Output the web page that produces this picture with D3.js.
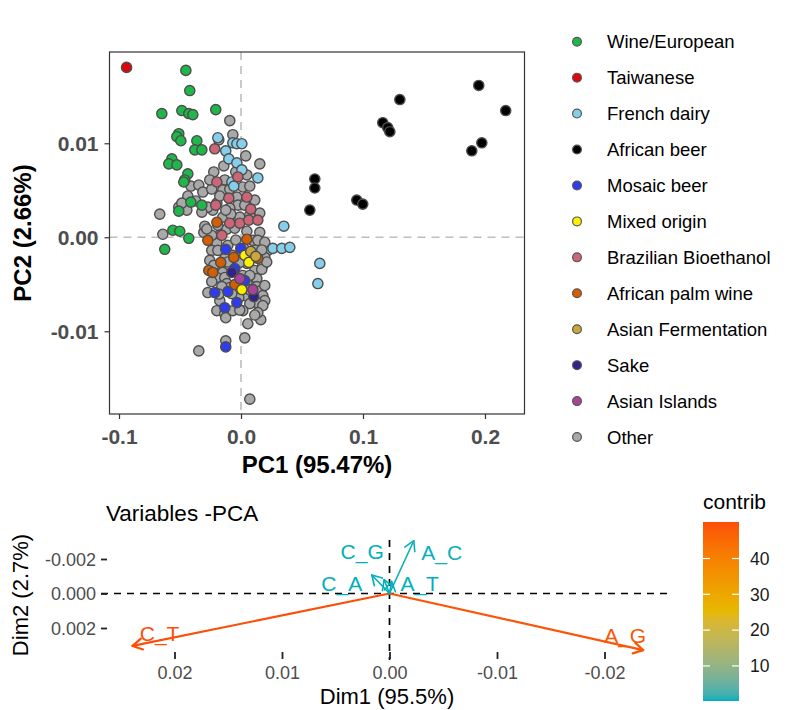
<!DOCTYPE html>
<html><head><meta charset="utf-8">
<script src="https://cdn.jsdelivr.net/npm/d3@7"></script>
<style>body{margin:0;background:#fff} svg{display:block} text{font-family:"Liberation Sans",Arial,Helvetica,sans-serif}</style>
</head><body><svg id="c" width="794" height="710"></svg>
<script>
// ---------------- DATA: individuals (PC1, PC2) ----------------
const categories = ["Wine/European","Taiwanese","French dairy","African beer","Mosaic beer","Mixed origin","Brazilian Bioethanol","African palm wine","Asian Fermentation","Sake","Asian Islands","Other"];
const categoryColors = ["#1EB84A","#E0060E","#87CEEB","#000000","#2F3BEF","#FFF000","#CC6677","#D55E00","#C8A838","#332288","#AA4499","#A9A9A9"];

const wineEuropean = [[-0.0452,0.01775],[-0.0420,0.01561],[-0.0649,0.01316],[-0.0485,0.01348],[-0.0428,0.01316],[-0.0395,0.01305],[-0.0207,0.01358],[-0.0510,0.01102],[-0.0526,0.0107],[-0.0493,0.01027],[-0.0362,0.01027],[-0.0379,0.0093],[-0.0321,0.0093],[-0.0567,0.00834],[-0.0592,0.00781],[-0.0526,0.0077],[-0.0436,0.00674],[-0.0461,0.0061],[-0.0469,0.00588],[-0.0321,0.00342],[-0.0510,0.00278],[-0.0411,0.00374],[-0.0559,0.00075],[-0.0502,0.00064],[-0.0428,-0.00011],[-0.0625,-0.00128]];
const taiwanese = [[-0.0938,0.01807]];
const frenchDairy = [[-0.0190,0.01059],[-0.0067,0.01005],[-0.0034,0.00995],[0.0007,0.00995],[-0.0125,0.0092],[-0.0100,0.00834],[-0.0034,0.00791],[0.0007,0.00717],[0.0138,0.00631],[-0.0075,0.00588],[-0.0059,0.00545],[0.0351,0.00118],[0.0261,-0.00118],[0.0334,-0.00118],[0.0400,-0.00107],[0.0646,-0.00278],[0.0630,-0.00492]];
const africanBeer = [[0.1949,0.01615],[0.1302,0.01465],[0.2170,0.01348],[0.1162,0.01219],[0.1203,0.01166],[0.1220,0.01123],[0.1974,0.01005],[0.1892,0.0092],[0.0605,0.0062],[0.0605,0.00524],[0.0949,0.00396],[0.0998,0.00353],[0.0564,0.00289]];
const mosaicBeer = [[-0.0125,-0.00128],[-0.0002,-0.00118],[-0.0051,-0.00332],[-0.0215,-0.00588],[-0.0108,-0.00578],[-0.0034,-0.00695],[-0.0133,-0.00749],[-0.0125,-0.01166],[0.0031,-0.0046]];
const mixedOrigin = [[0.0031,-0.00193],[0.0007,-0.00556],[0.0064,-0.00267]];
const brazilianBioethanol = [[-0.0215,0.00941],[-0.0198,0.00588],[-0.0026,0.00642],[-0.0100,0.00417],[0.0048,0.00428],[-0.0207,0.00342],[0.0080,0.00299],[-0.0010,0.0015],[0.0064,0.00182],[-0.0092,0.0015],[-0.0157,0.00021],[0.0138,0.00182]];
const africanPalmWine = [[-0.0198,0.0016],[-0.0272,-0.00032],[0.0048,-0.00021],[-0.0059,-0.00214],[-0.0166,-0.00267],[-0.0264,-0.00353],[-0.0051,-0.00503],[0.0138,-0.00225],[-0.0231,-0.00374]];
const asianFermentation = [[0.0080,-0.0015],[0.0121,-0.00203]];
const sake = [[-0.0075,-0.00374],[0.0105,-0.00631]];
const asianIslands = [[-0.0010,-0.00439],[0.0097,-0.00556]];
const other = [[-0.0092,0.01241],[-0.0067,0.01091],[-0.0182,0.01037],[0.0154,0.00781],[0.0039,0.00866],[-0.0141,0.00759],[-0.0223,0.00695],[0.0048,0.00663],[-0.0411,0.00545],[-0.0346,0.00556],[-0.0313,0.00481],[-0.0436,0.00439],[-0.0240,0.00513],[-0.0149,0.00503],[-0.0092,0.00513],[0.0015,0.00535],[-0.0034,0.00428],[-0.0510,0.00321],[-0.0666,0.00246],[-0.0198,0.00364],[-0.0026,0.00342],[-0.0092,0.0031],[0.0031,0.00342],[0.0154,0.00257],[-0.0231,0.00289],[-0.0272,0.00321],[-0.0444,0.00289],[-0.0485,0.00364],[-0.0149,0.00214],[-0.0067,0.00214],[-0.0010,0.00214],[-0.0084,0.00246],[-0.0321,0.00267],[-0.0125,0.00289],[-0.0641,0.00032],[-0.0305,0.00053],[-0.0157,0.00064],[-0.0116,0.00086],[-0.0051,0.00096],[0.0048,0.00064],[0.0154,0.00053],[-0.0198,-0.00064],[-0.0240,-0.00139],[-0.0190,-0.00139],[0.0220,-0.00139],[0.0195,-0.00214],[0.0130,-0.00107],[-0.0067,-0.00193],[-0.0133,-0.00225],[0.0048,-0.00278],[0.0179,-0.00299],[0.0113,-0.00353],[0.0170,-0.00342],[0.0015,-0.00406],[0.0130,-0.00439],[-0.0149,-0.00374],[-0.0198,-0.00428],[-0.0240,-0.00471],[-0.0133,-0.00428],[-0.0116,-0.00492],[0.0048,-0.00481],[0.0130,-0.00524],[0.0162,-0.00567],[-0.0092,-0.00535],[-0.0157,-0.00524],[0.0179,-0.0062],[0.0097,-0.00642],[0.0031,-0.0062],[-0.0018,-0.00642],[0.0195,-0.00674],[0.0130,-0.00695],[0.0072,-0.00706],[0.0179,-0.00727],[-0.0075,-0.00599],[-0.0198,-0.00781],[-0.0133,-0.00813],[-0.0125,-0.00856],[0.0056,-0.0092],[0.0162,-0.00877],[0.0031,-0.0107],[-0.0125,-0.01102],[-0.0346,-0.01209],[0.0072,-0.01722],[0.0089,-0.00193],[-0.0010,-0.00267],[-0.0092,-0.00299],[-0.0256,-0.00246],[0.0097,-0.00032],[0.0023,-0.00118],[0.0138,-0.00032],[-0.0108,-0.00086],[-0.0297,0.00118],[0.0072,0.00235],[0.0113,0.00396],[-0.0174,0.00439],[-0.0043,0.00695],[0.0072,0.00545],[-0.0133,0.0061],[-0.0256,0.0061],[-0.0223,-0.00299],[0.0072,-0.00406],[-0.0174,-0.00674],[-0.0067,-0.00781],[0.0015,-0.00781],[0.0138,-0.00802],[0.0195,-0.00513],[-0.0190,0.00128],[-0.0240,0.00021],[0.0195,-0.00053],[-0.0272,-0.00588],[-0.0280,0.00088],[0.0170,-0.00135],[0.0211,-0.00263],[0.0072,-0.0056],[-0.0043,-0.00029],[-0.0108,-0.00263],[-0.0010,-0.00774],[0.0113,-0.00827],[-0.0182,-0.00604],[-0.0370,0.00386]];

const seriesByCategory = [wineEuropean,taiwanese,frenchDairy,africanBeer,mosaicBeer,mixedOrigin,brazilianBioethanol,africanPalmWine,asianFermentation,sake,asianIslands,other];
const drawOrder = [11,0,1,2,3,6,7,4,5,8,9,10];

const pcXTicks = [-0.1,0,0.1,0.2];
const pcXTickLabels = ["-0.1","0.0","0.1","0.2"];
const pcYTicks = [-0.01,0,0.01];
const pcYTickLabels = ["-0.01","0.00","0.01"];
const pcXTitle = "PC1 (95.47%)";
const pcYTitle = "PC2 (2.66%)";

// ---------------- DATA: variables ----------------
const varNames = ["C_T","A_G","A_C","C_A","C_G","A_T"];
const varDim1 = [0.0239,-0.0236,-0.00226,0.00165,0.0005,-0.0002];
const varDim2 = [0.00304,0.00328,-0.00306,-0.00107,-0.0008,-0.0007];
const varContrib = [50.2,49.1,0.3,0.2,0.2,0.2];
const labelNudge = [[27,-13],[-18,-15],[28,12],[-30,8],[-22,-28],[28,2]]; // repel offsets (px)
const dimXTicks = [0.02,0.01,0,-0.01,-0.02];
const dimXTickLabels = ["0.02","0.01","0.00","-0.01","-0.02"];
const dimYTicks = [-0.002,0,0.002];
const dimYTickLabels = ["-0.002","0.000","0.002"];
const contribTicks = [10,20,30,40];
const gradientCols = ["#00AFBB","#E7B800","#FC4E07"];

// ---------------- DRAW ----------------
const svg = d3.select("#c");
const FONT = '"Liberation Sans",Arial,Helvetica,sans-serif';

// ---- top panel ----
const P = {l:109.5, r:524.5, t:52, b:414};
const x = d3.scaleLinear().domain([-0.1078, 0.2324]).range([P.l, P.r]);
const y = d3.scaleLinear().domain([-0.0188, 0.01971]).range([P.b, P.t]);
const topG = svg.append("g");

topG.append("line").attr("x1",x(0)).attr("x2",x(0)).attr("y1",P.t).attr("y2",P.b)
  .attr("stroke","#BEBEBE").attr("stroke-width",1.6).attr("stroke-dasharray","8,6");
topG.append("line").attr("x1",P.l).attr("x2",P.r).attr("y1",y(0)).attr("y2",y(0))
  .attr("stroke","#BEBEBE").attr("stroke-width",1.6).attr("stroke-dasharray","8,6");

drawOrder.forEach(ci => {
  topG.append("g").selectAll("circle").data(seriesByCategory[ci]).join("circle")
    .attr("cx", d => x(d[0])).attr("cy", d => y(d[1])).attr("r", 5.1)
    .attr("fill", categoryColors[ci]).attr("stroke", "#4d4d4d").attr("stroke-width", 1.4);
});

topG.append("rect").attr("x",P.l).attr("y",P.t).attr("width",P.r-P.l).attr("height",P.b-P.t)
  .attr("fill","none").attr("stroke","#333").attr("stroke-width",1.2);

// axes
const xAx = topG.append("g").attr("transform",`translate(0,${P.b})`)
  .call(d3.axisBottom(x).tickValues(pcXTicks).tickFormat((d,i)=>pcXTickLabels[i]).tickSize(5).tickPadding(6));
const yAx = topG.append("g").attr("transform",`translate(${P.l},0)`)
  .call(d3.axisLeft(y).tickValues(pcYTicks).tickFormat((d,i)=>pcYTickLabels[i]).tickSize(5).tickPadding(6));
[xAx,yAx].forEach(a => {
  a.select(".domain").remove();
  a.selectAll(".tick line").attr("stroke","#333").attr("stroke-width",1.2);
  a.selectAll(".tick text").attr("fill","#4D4D4D").attr("font-size",21).attr("font-weight","bold").attr("font-family",FONT);
});
xAx.selectAll(".tick text").attr("dy","0.9em");
yAx.selectAll(".tick text").attr("dy","0.36em");

topG.append("text").attr("x",(P.l+P.r)/2).attr("y",464).attr("dy","0.36em").attr("text-anchor","middle")
  .attr("font-size",24).attr("font-weight","bold").attr("fill","#000").text(pcXTitle);
topG.append("text").attr("transform",`translate(22,${(P.t+P.b)/2}) rotate(-90)`).attr("dy","0.36em")
  .attr("text-anchor","middle").attr("font-size",24).attr("font-weight","bold").attr("fill","#000").text(pcYTitle);

// legend
const leg = svg.append("g");
categories.forEach((c,i) => {
  const cy = 41.7 + i*35.94;
  leg.append("circle").attr("cx",577).attr("cy",cy).attr("r",4.4)
    .attr("fill",categoryColors[i]).attr("stroke","#555").attr("stroke-width",1.2);
  leg.append("text").attr("x",607).attr("y",cy).attr("dy","0.36em").attr("font-size",18.5).attr("fill","#000").text(c);
});

// ---- bottom panel ----
const xb = d3.scaleLinear().domain([0.02,-0.02]).range([174.5,604.5]);
const yb = d3.scaleLinear().domain([-0.002,0.002]).range([559,628]);
const botG = svg.append("g");
const cmin = d3.min(varContrib), cmax = d3.max(varContrib);
const cScale = d3.scaleLinear().domain([cmin,(cmin+cmax)/2,cmax]).range(gradientCols).interpolate(d3.interpolateLab);

botG.append("text").attr("x",106).attr("y",521).attr("font-size",22.5).attr("fill","#000").text("Variables -PCA");

botG.append("line").attr("x1",101).attr("x2",668).attr("y1",yb(0)).attr("y2",yb(0))
  .attr("stroke","#000").attr("stroke-width",1.7).attr("stroke-dasharray","7,6");
botG.append("line").attr("x1",xb(0)).attr("x2",xb(0)).attr("y1",540).attr("y2",660)
  .attr("stroke","#000").attr("stroke-width",1.7).attr("stroke-dasharray","7,6");

// ticks
const bxAx = botG.append("g").attr("transform","translate(0,652)")
  .call(d3.axisBottom(xb).tickValues(dimXTicks).tickFormat((d,i)=>dimXTickLabels[i]).tickSize(7).tickPadding(6));
const byAx = botG.append("g").attr("transform","translate(107,0)")
  .call(d3.axisLeft(yb).tickValues(dimYTicks).tickFormat((d,i)=>dimYTickLabels[i]).tickSize(6).tickPadding(5));
[bxAx,byAx].forEach(a => {
  a.select(".domain").remove();
  a.selectAll(".tick line").attr("stroke","#222").attr("stroke-width",1.8);
  a.selectAll(".tick text").attr("fill","#4D4D4D").attr("font-size",18).attr("font-family",FONT);
});
bxAx.selectAll(".tick text").attr("dy","0.8em");
byAx.selectAll(".tick text").attr("dy","0.36em");

botG.append("text").attr("x",387).attr("y",696).attr("dy","0.36em").attr("text-anchor","middle")
  .attr("font-size",22).attr("fill","#000").text("Dim1 (95.5%)");
botG.append("text").attr("transform","translate(20,595) rotate(-90)").attr("dy","0.36em")
  .attr("text-anchor","middle").attr("font-size",22).attr("fill","#000").text("Dim2 (2.7%)");

// arrows
const vars = varNames.map((n,i)=>({name:n, d1:varDim1[i], d2:varDim2[i], c:varContrib[i], nudge:labelNudge[i]}));
vars.forEach(v => {
  const x0 = xb(0), y0 = yb(0), x1 = xb(v.d1), y1 = yb(v.d2);
  const col = cScale(v.c);
  const big = v.c > 10;
  const sw = big ? 2.2 : 1.6;
  botG.append("line").attr("x1",x0).attr("y1",y0).attr("x2",x1).attr("y2",y1)
    .attr("stroke",col).attr("stroke-width",sw).attr("stroke-linecap","round");
  const ang = Math.atan2(y1-y0, x1-x0);
  const L = 11, a = Math.PI/6;
  const p1 = [x1 - L*Math.cos(ang-a), y1 - L*Math.sin(ang-a)];
  const p2 = [x1 - L*Math.cos(ang+a), y1 - L*Math.sin(ang+a)];
  botG.append("path").attr("d",`M${p1[0]},${p1[1]}L${x1},${y1}L${p2[0]},${p2[1]}`)
    .attr("fill","none").attr("stroke",col).attr("stroke-width",sw).attr("stroke-linecap","round").attr("stroke-linejoin","round");
  botG.append("text").attr("x",x1+v.nudge[0]).attr("y",y1+v.nudge[1]).attr("dy","0.36em")
    .attr("text-anchor","middle").attr("font-size",21).attr("fill",col).text(v.name);
});

// colorbar
const cb = {x:703, w:36, t:522, b:701};
const yc = d3.scaleLinear().domain([cmin,cmax]).range([cb.b,cb.t]);
const defs = svg.append("defs");
const grad = defs.append("linearGradient").attr("id","cg").attr("x1",0).attr("x2",0).attr("y1",1).attr("y2",0);
d3.range(0,1.0001,0.02).forEach(t => grad.append("stop").attr("offset",t).attr("stop-color",cScale(cmin+t*(cmax-cmin))));
svg.append("rect").attr("x",cb.x).attr("y",cb.t).attr("width",cb.w).attr("height",cb.b-cb.t).attr("fill","url(#cg)");
contribTicks.forEach(t => {
  const yy = yc(t);
  svg.append("line").attr("x1",cb.x).attr("x2",cb.x+7).attr("y1",yy).attr("y2",yy).attr("stroke","#fff").attr("stroke-width",1.2);
  svg.append("line").attr("x1",cb.x+cb.w-7).attr("x2",cb.x+cb.w).attr("y1",yy).attr("y2",yy).attr("stroke","#fff").attr("stroke-width",1.2);
  svg.append("text").attr("x",750).attr("y",yy).attr("dy","0.36em").attr("font-size",17.5).attr("fill","#1a1a1a").text(t);
});
svg.append("text").attr("x",703).attr("y",509).attr("font-size",21).attr("fill","#000").text("contrib");
</script></body></html>
